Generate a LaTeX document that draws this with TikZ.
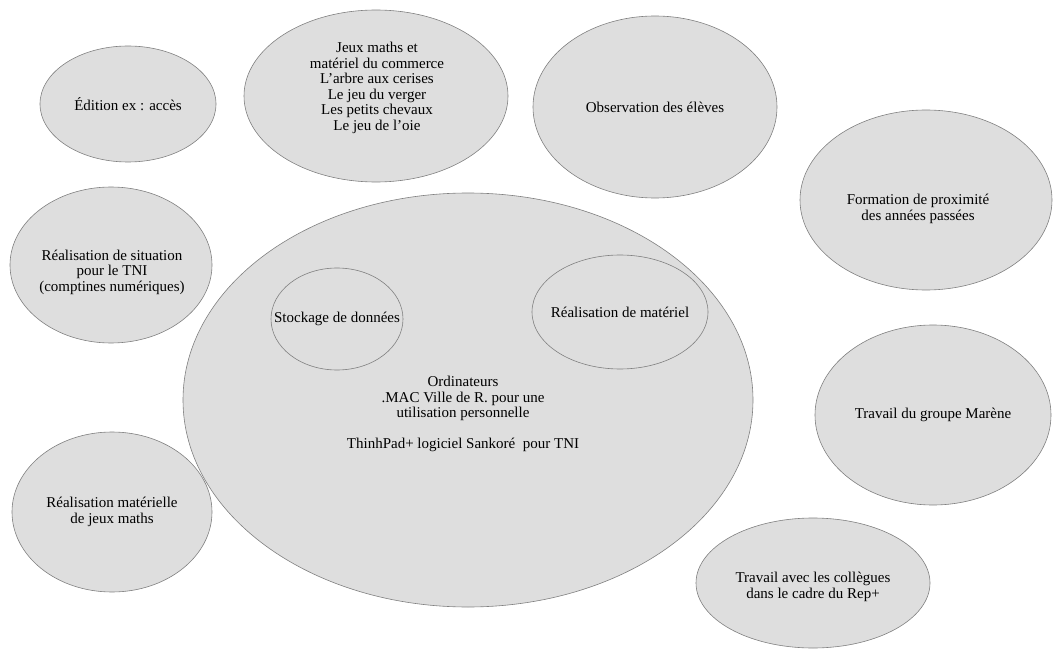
\documentclass[tikz,border=0pt]{standalone}
\usepackage{fontspec}
\setmainfont{Liberation Serif}
\usetikzlibrary{shapes.geometric}
\tikzset{
  bulle/.style={ellipse, draw=black!50, fill=black!13, line width=0.6pt, inner sep=0pt},
  texte/.style={align=center, font=\fontsize{15}{15.5}\selectfont}
}
\begin{document}
\begin{tikzpicture}[x=1pt,y=-1pt]
\useasboundingbox (0,0) rectangle (1053,650);
% les bulles
\node[bulle, minimum width=176, minimum height=116] (edition) at (128,104) {};
\node[bulle, minimum width=264, minimum height=172] (jeux) at (376,96) {};
\node[bulle, minimum width=244, minimum height=182] (obs) at (655,107) {};
\node[bulle, minimum width=252, minimum height=180] (formation) at (926,200) {};
\node[bulle, minimum width=202, minimum height=156] (situation) at (111,265) {};
\node[bulle, minimum width=570, minimum height=414] (ordi) at (468,400) {};
\node[bulle, minimum width=132, minimum height=102] (stockage) at (337,319) {};
\node[bulle, minimum width=176, minimum height=114] (materiel) at (620,312) {};
\node[bulle, minimum width=236, minimum height=180] (marene) at (933,415) {};
\node[bulle, minimum width=200, minimum height=160] (jeuxmat) at (112,512) {};
\node[bulle, minimum width=234, minimum height=130] (rep) at (813,583) {};
% les textes
\node[texte] (edition-t) at (edition) {Édition ex : accès};
\node[texte] (jeux-t) at (377,88) {Jeux maths et\\ matériel du commerce\\ L'arbre aux cerises\\ Le jeu du verger\\ Les petits chevaux\\ Le jeu de l'oie};
\node[texte] (obs-t) at (obs) {Observation des élèves};
\node[texte] (formation-t) at (918,209) {Formation de proximité\\ des années passées};
\node[texte] (situation-t) at (112,272) {Réalisation de situation\\ pour le TNI\\ (comptines numériques)};
\node[texte] (ordi-t) at (463,414) {Ordinateurs\\ .MAC Ville de R. pour une\\ utilisation personnelle\\[\baselineskip] ThinhPad+ logiciel Sankoré\ \ pour TNI};
\node[texte] (stockage-t) at (stockage) {Stockage de données};
\node[texte] (materiel-t) at (materiel) {Réalisation de matériel};
\node[texte] (marene-t) at (marene) {Travail du groupe Marène};
\node[texte] (jeuxmat-t) at (jeuxmat) {Réalisation matérielle\\ de jeux maths};
\node[texte] (rep-t) at (813,587) {Travail avec les collègues\\ dans le cadre du Rep+};
\end{tikzpicture}
\end{document}
